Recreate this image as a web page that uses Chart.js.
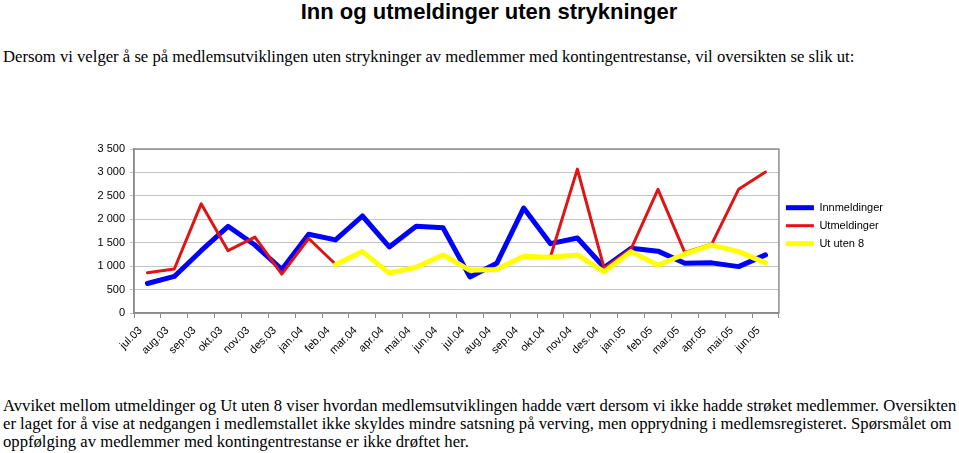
<!DOCTYPE html>
<html>
<head>
<meta charset="utf-8">
<script src="https://cdn.jsdelivr.net/npm/chart.js@4/dist/chart.umd.min.js"></script>
<style>
  body { margin: 0; background: #fff; width: 959px; height: 453px; position: relative; overflow: hidden; }
  .title { position: absolute; left: 489px; top: -1px; transform: translateX(-50%); white-space: nowrap;
           font: bold 22px "Liberation Sans", Arial, sans-serif; line-height: 26px; color: #000; }
  .txt { position: absolute; left: 3px; white-space: nowrap; color: #000;
         font-family: "Liberation Serif", "Times New Roman", serif; font-size: 17.5px;
         transform: scaleX(0.952); transform-origin: 0 0; }
  #sub { top: 46px; line-height: 20px; }
  #bottom { top: 396px; line-height: 18px; }
  #wrap { position: absolute; left: 0; top: 130px; width: 959px; height: 248px; }
</style>
</head>
<body>
<div class="title">Inn og utmeldinger uten strykninger</div>
<div class="txt" id="sub">Dersom vi velger å se på medlemsutviklingen uten strykninger av medlemmer med kontingentrestanse, vil oversikten se slik ut:</div>
<div id="wrap"><canvas id="myChart"></canvas></div>
<div class="txt" id="bottom">Avviket mellom utmeldinger og Ut uten 8 viser hvordan medlemsutviklingen hadde vært dersom vi ikke hadde strøket medlemmer. Oversikten<br>er laget for å vise at nedgangen i medlemstallet ikke skyldes mindre satsning på verving, men opprydning i medlemsregisteret. Spørsmålet om<br>oppfølging av medlemmer med kontingentrestanse er ikke drøftet her.</div>
<script>
const months = ['jul.03', 'aug.03', 'sep.03', 'okt.03', 'nov.03', 'des.03', 'jan.04', 'feb.04', 'mar.04', 'apr.04', 'mai.04', 'jun.04',
                'jul.04', 'aug.04', 'sep.04', 'okt.04', 'nov.04', 'des.04', 'jan.05', 'feb.05', 'mar.05', 'apr.05', 'mai.05', 'jun.05'];
const innmeldinger = [630, 780, 1330, 1850, 1450, 930, 1680, 1560, 2070, 1410, 1850, 1820,
                      770, 1060, 2240, 1480, 1600, 970, 1380, 1320, 1060, 1070, 990, 1240];
const utmeldinger = [860, 940, 2330, 1330, 1620, 830, 1590, 1040, 1310, 850, 975, 1240,
                     910, 930, 1210, 1200, 3070, 950, 1370, 2640, 1290, 1470, 2640, 3010];
const utUten8 = [null, null, null, null, null, null, null, 1030, 1310, 850, 975, 1240,
                 910, 930, 1210, 1190, 1240, 880, 1310, 1020, 1260, 1450, 1310, 1070];
const yTicks = [0, 500, 1000, 1500, 2000, 2500, 3000, 3500];

const fmt = v => String(v).replace(/\B(?=(\d{3})+(?!\d))/g, ' ');

// grey frame round the plot area, like the Excel chart
const plotFrame = {
    id: 'plotFrame',
    afterDraw(chart) {
        const { ctx, chartArea: a } = chart;
        ctx.save();
        ctx.strokeStyle = '#8c8c8c';
        ctx.lineWidth = 1.5;
        ctx.strokeRect(a.left, a.top, a.right - a.left, a.bottom - a.top);
        ctx.restore();
    }
};

const font = { family: '"Liberation Sans", Arial, sans-serif', size: 11 };

new Chart(document.getElementById('myChart'), {
    type: 'line',
    data: {
        labels: months,
        datasets: [
            { label: 'Innmeldinger', data: innmeldinger, borderColor: '#0000ff', backgroundColor: '#0000ff', borderWidth: 5, order: 3 },
            { label: 'Utmeldinger', data: utmeldinger, borderColor: '#e01414', backgroundColor: '#e01414', borderWidth: 3, order: 2 },
            { label: 'Ut uten 8', data: utUten8, borderColor: '#ffff00', backgroundColor: '#ffff00', borderWidth: 5, order: 1 }
        ]
    },
    options: {
        responsive: true,
        maintainAspectRatio: false,
        animation: false,
        layout: { padding: { left: 0, top: 19, right: 66, bottom: 0 } },
        elements: {
            point: { radius: 0, hoverRadius: 0, pointStyle: 'line' },
            line: { tension: 0, borderCapStyle: 'round', borderJoinStyle: 'round' }
        },
        plugins: {
            tooltip: { enabled: false },
            legend: {
                position: 'right',
                fullSize: false,
                align: 'start',
                // empty title only pushes the entries down to the middle of the plot
                title: { display: true, text: ' ', font: font, padding: { top: 33, bottom: 0 } },
                labels: {
                    usePointStyle: true,
                    pointStyle: 'line',
                    pointStyleWidth: 28,
                    boxHeight: 4,
                    padding: 7,
                    color: '#000',
                    font: font,
                    sort: (a, b) => a.datasetIndex - b.datasetIndex
                }
            }
        },
        scales: {
            x: {
                offset: true,
                grid: { offset: true, drawOnChartArea: false, tickLength: 5, color: '#8c8c8c' },
                border: { color: '#8c8c8c', width: 1.5 },
                ticks: { color: '#000', font: font, maxRotation: 45, minRotation: 45, autoSkip: false, padding: 6, labelOffset: -7 },
                afterFit(scale) { scale.height = 65; }
            },
            y: {
                min: 0,
                max: 3500,
                afterBuildTicks(scale) { scale.ticks = yTicks.map(v => ({ value: v })); },
                grid: { color: '#c4c4c4', tickLength: 4 },
                border: { color: '#8c8c8c', width: 1.5 },
                ticks: { color: '#000', font: font, padding: 5, callback: v => fmt(v) },
                afterFit(scale) { scale.width = 134; }
            }
        }
    },
    plugins: [plotFrame]
});
</script>
</body>
</html>
